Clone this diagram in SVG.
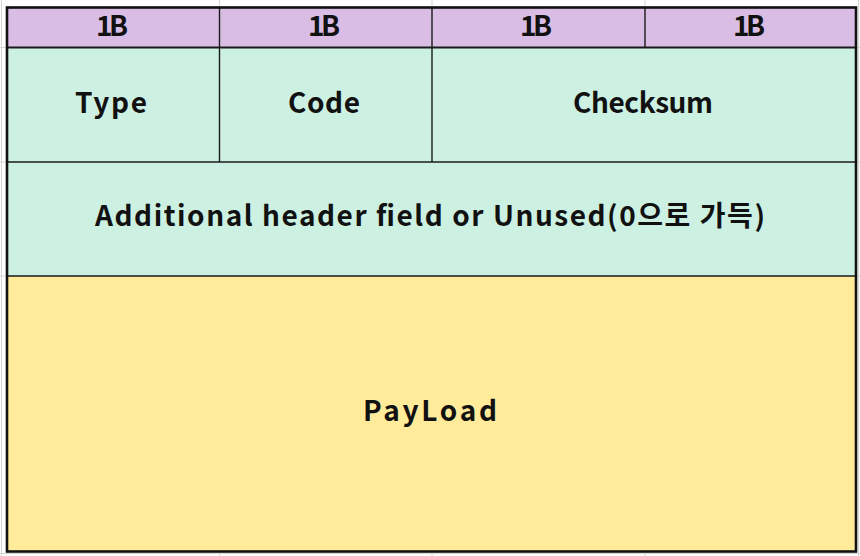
<svg xmlns="http://www.w3.org/2000/svg" width="860" height="556" viewBox="0 0 860 556">
<style>
.grid{stroke:#d6d6d6;stroke-width:1;fill:none}
.hdr{fill:#d9bde5}
.grn{fill:#ccf0e2}
.yel{fill:#ffeb99}
.in{stroke:#1a1a1a;stroke-width:1.4;fill:none}
.outer{stroke:#111;stroke-width:2.6;fill:none}
.t{font-family:"Noto Sans CJK KR","Noto Sans",sans-serif;font-weight:700;font-size:28px;fill:#111;text-anchor:middle}
</style>
<rect width="860" height="556" fill="#ffffff"/>
<g id="gridlines" class="grid">
<line x1="1.5" y1="0" x2="1.5" y2="556"/>
<line x1="858.5" y1="0" x2="858.5" y2="556"/>
<line x1="219.5" y1="0" x2="219.5" y2="556"/>
<line x1="432" y1="0" x2="432" y2="556"/>
<line x1="645" y1="0" x2="645" y2="556"/>
<line x1="0" y1="47.5" x2="860" y2="47.5"/>
<line x1="0" y1="162" x2="860" y2="162"/>
<line x1="0" y1="276" x2="860" y2="276"/>
<line x1="0" y1="553.5" x2="860" y2="553.5"/>
</g>
<g id="cell-1b-1"><rect class="hdr" x="7" y="7.5" width="212.5" height="40"/><text class="t" x="112" y="36" textLength="32">1B</text></g>
<g id="cell-1b-2"><rect class="hdr" x="219.5" y="7.5" width="212.5" height="40"/><text class="t" x="324" y="36" textLength="32">1B</text></g>
<g id="cell-1b-3"><rect class="hdr" x="432" y="7.5" width="213" height="40"/><text class="t" x="536" y="36" textLength="32">1B</text></g>
<g id="cell-1b-4"><rect class="hdr" x="645" y="7.5" width="211" height="40"/><text class="t" x="749" y="36" textLength="32">1B</text></g>
<g id="cell-type"><rect class="grn" x="7" y="47.5" width="212.5" height="114.5"/><text class="t" x="111" y="113" textLength="72">Type</text></g>
<g id="cell-code"><rect class="grn" x="219.5" y="47.5" width="212.5" height="114.5"/><text class="t" x="324" y="113" textLength="72">Code</text></g>
<g id="cell-checksum"><rect class="grn" x="432" y="47.5" width="424" height="114.5"/><text class="t" x="643" y="113" textLength="140">Checksum</text></g>
<g id="cell-additional"><rect class="grn" x="7" y="162" width="849" height="114"/><text class="t" x="430" y="226" textLength="670">Additional header field or Unused(0으로 가득)</text></g>
<g id="cell-payload"><rect class="yel" x="7" y="276" width="849" height="275.5"/><text class="t" x="430" y="421" textLength="134">PayLoad</text></g>
<g id="borders">
<line class="in" x1="7" y1="47.5" x2="856" y2="47.5" style="stroke-width:2.2"/>
<line class="in" x1="219.5" y1="7.5" x2="219.5" y2="162"/>
<line class="in" x1="432" y1="7.5" x2="432" y2="162"/>
<line class="in" x1="645" y1="7.5" x2="645" y2="47.5"/>
<line class="in" x1="7" y1="162" x2="856" y2="162"/>
<line class="in" x1="7" y1="276" x2="856" y2="276"/>
<rect class="outer" x="7" y="7.5" width="849" height="544"/>
</g>
</svg>
